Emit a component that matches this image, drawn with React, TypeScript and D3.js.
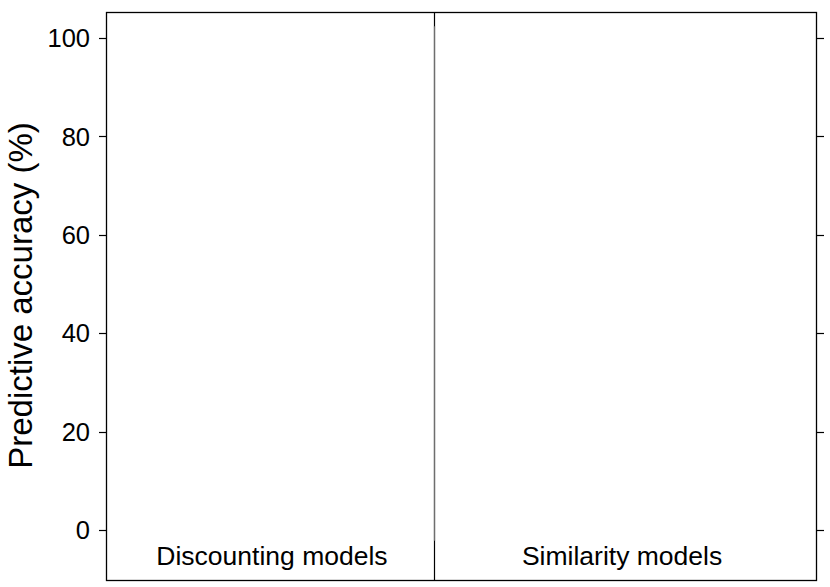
import React from "react";
import * as d3 from "d3";

const categories = ["Discounting models", "Similarity models"];
const categoryPositions = [1, 2];
const yTicks = [0, 20, 40, 60, 80, 100];
const yLabel = "Predictive accuracy (%)";
const dividerPos = 1.463;
const dividerGrayRange = [-2.2, 102.4];

const W = 830;
const H = 587;
const plot = { left: 106, right: 816, top: 12, bottom: 580 };
const FONT = "'Liberation Sans', Arial, Helvetica, sans-serif";

export default function App() {
  const x = d3.scaleLinear().domain([0.526, 2.554]).range([plot.left, plot.right]);
  const y = d3.scaleLinear().domain([-10.16, 105.28]).range([plot.bottom, plot.top]);
  const dx = Math.round(x(dividerPos)) + 0.5;
  const py = (v: number) => Math.round(y(v)) + 0.5;

  return (
    <svg
      width={W}
      height={H}
      style={{ position: "absolute", left: 0, top: 0, background: "#fff" }}
    >
      <rect x={0} y={0} width={W} height={H} fill="#fff" />
      {/* divider */}
      <line x1={dx} x2={dx} y1={plot.top} y2={plot.bottom} stroke="#000" strokeWidth={1.2} />
      <line
        x1={dx}
        x2={dx}
        y1={y(dividerGrayRange[1])}
        y2={y(dividerGrayRange[0])}
        stroke="#6e6e6e"
        strokeWidth={1.2}
      />
      {/* box */}
      <rect
        x={plot.left + 0.5}
        y={plot.top + 0.5}
        width={plot.right - plot.left}
        height={plot.bottom - plot.top}
        fill="none"
        stroke="#000"
        strokeWidth={1.3}
      />
      {/* left ticks */}
      {yTicks.map((t) => (
        <g key={"l" + t}>
          <line x1={plot.left - 7} x2={plot.left} y1={py(t)} y2={py(t)} stroke="#000" strokeWidth={1.2} />
          <text
            x={plot.left - 16}
            y={y(t)}
            dy="0.36em"
            textAnchor="end"
            fontFamily={FONT}
            fontSize={25.5}
            fill="#000"
          >
            {t}
          </text>
          <line x1={plot.right} x2={plot.right + 8} y1={py(t)} y2={py(t)} stroke="#000" strokeWidth={1.2} />
        </g>
      ))}
      {/* y label */}
      <text
        transform={`translate(31.5, ${(123 + 468) / 2}) rotate(-90)`}
        textAnchor="middle"
        fontFamily={FONT}
        fontSize={33}
        fill="#000"
      >
        {yLabel}
      </text>
      {/* category labels */}
      {categories.map((c, i) => (
        <text
          key={c}
          x={x(categoryPositions[i])}
          y={565}
          textAnchor="middle"
          fontFamily={FONT}
          fontSize={26.5}
          fill="#000"
        >
          {c}
        </text>
      ))}
    </svg>
  );
}
